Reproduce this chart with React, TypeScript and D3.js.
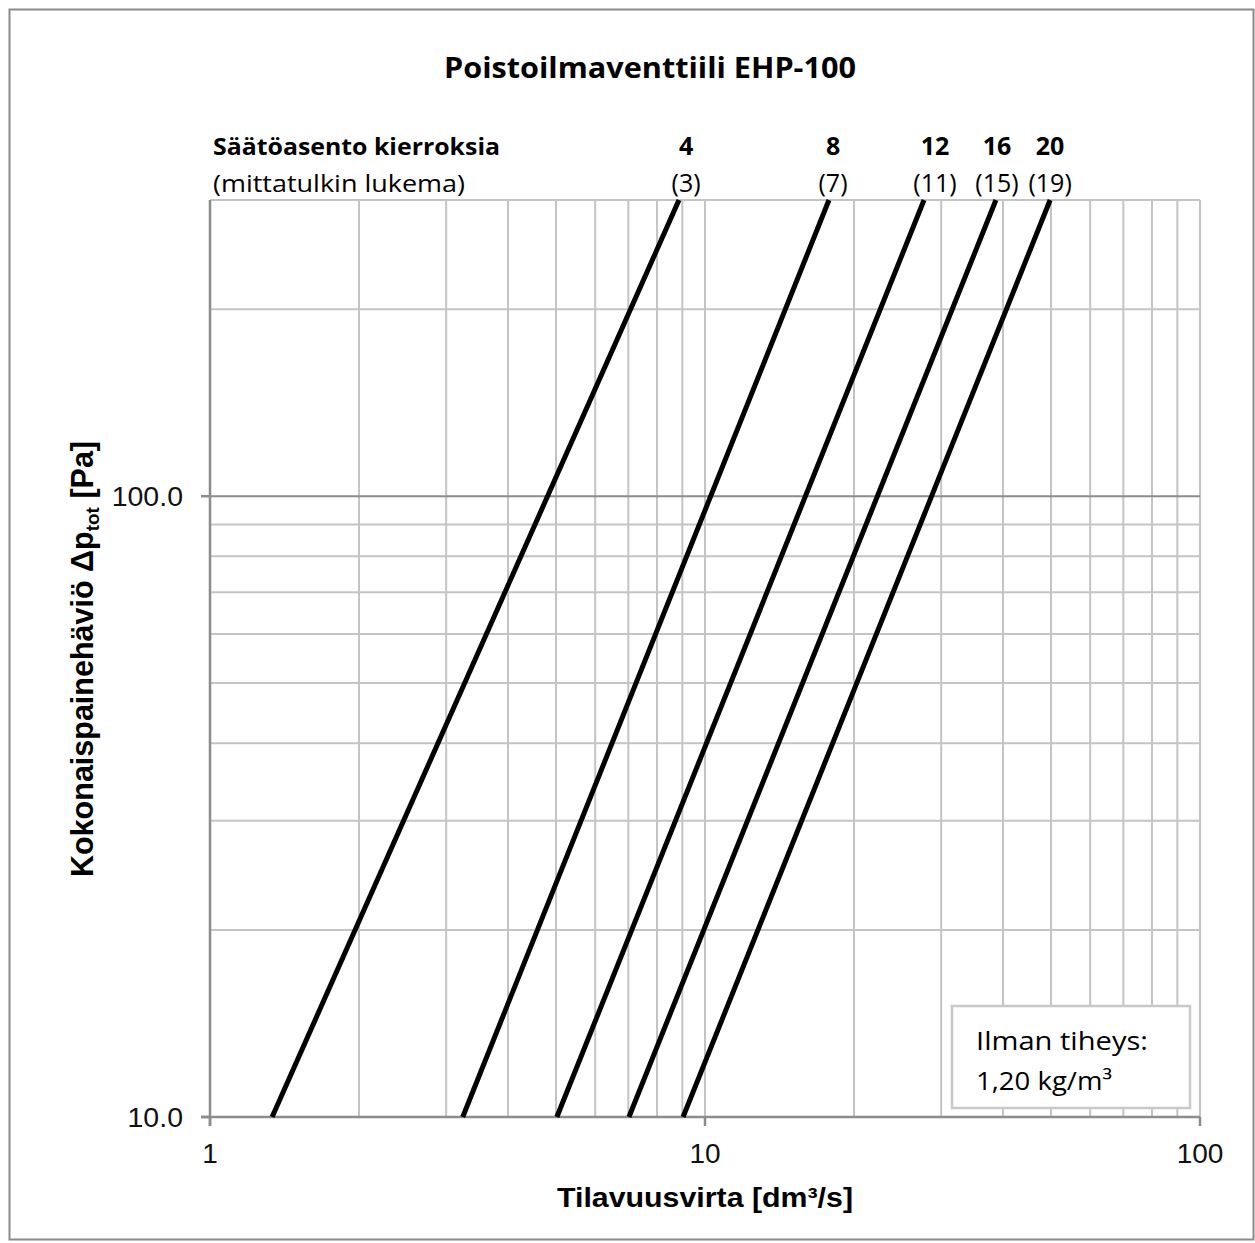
import React from 'react';
import * as d3 from 'd3';

// Valve setting (turns) and meter reading for each curve
const positions = ['4', '8', '12', '16', '20'];
const readings = ['(3)', '(7)', '(11)', '(15)', '(19)'];
// flow [dm3/s] at the bottom (10 Pa) and top (300 Pa) of each curve
const flowAtLow = [1.335, 3.24, 5.02, 7.02, 9.03];
const flowAtHigh = [8.86, 17.8, 27.7, 38.7, 49.8];
const pressures = [10, 300];
// flow where each curve label is centred
const labelFlow = [9.16, 18.14, 29.15, 38.9, 49.8];

const xTicks = [1, 10, 100];
const yTicks = [10, 100];
const xGrid = [2, 3, 4, 5, 6, 7, 8, 9, 10, 20, 30, 40, 50, 60, 70, 80, 90, 100];
const yGrid = [20, 30, 40, 50, 60, 70, 80, 90, 200, 300];

const W = 1255;
const H = 1243;
const calibri = "'Open Sans', 'Noto Sans', sans-serif";
const arial = "'Liberation Sans', Arial, sans-serif";

export default function App() {
  const x = d3.scaleLog().domain([1, 100]).range([210, 1200]);
  const y = d3.scaleLog().domain([10, 300]).range([1117, 200]);

  const line = d3.line<[number, number]>()
    .x(d => x(d[0]))
    .y(d => y(d[1]));

  const curves = positions.map((p, i) => [
    [flowAtLow[i], pressures[0]],
    [flowAtHigh[i], pressures[1]],
  ] as [number, number][]);

  const [x0, x1] = x.range();
  const [y0, y1] = y.range();

  return (
    <svg width={W} height={H} style={{ position: 'absolute', left: 0, top: 0, background: '#fff' }}>
      {/* outer frame */}
      <rect x={9.5} y={9.5} width={1244} height={1230} fill="none" stroke="#8a8a8a" strokeWidth={2} />

      {/* title */}
      <text x={650} y={78} textAnchor="middle" fontFamily={calibri} fontWeight="bold" fontSize={28}
        textLength={412} lengthAdjust="spacingAndGlyphs" fill="#000">Poistoilmaventtiili EHP-100</text>

      {/* grid */}
      {xGrid.map(v => (
        <line key={'gx' + v} x1={x(v)} x2={x(v)} y1={y1} y2={y0} stroke="#c4c4c4" strokeWidth={2} />
      ))}
      {yGrid.map(v => (
        <line key={'gy' + v} x1={x0} x2={x1} y1={y(v)} y2={y(v)} stroke="#c4c4c4" strokeWidth={2} />
      ))}
      <line x1={x0} x2={x1} y1={y(100)} y2={y(100)} stroke="#8c8c8c" strokeWidth={2} />

      {/* axes */}
      <line x1={x0} x2={x0} y1={y1} y2={y0 + 9} stroke="#8c8c8c" strokeWidth={2.5} />
      <line x1={x0 - 9} x2={x1} y1={y0} y2={y0} stroke="#8c8c8c" strokeWidth={2.5} />
      {yTicks.map(v => (
        <line key={'ty' + v} x1={x0 - 9} x2={x0} y1={y(v)} y2={y(v)} stroke="#8c8c8c" strokeWidth={2.5} />
      ))}
      {xTicks.map(v => (
        <line key={'tx' + v} x1={x(v)} x2={x(v)} y1={y0} y2={y0 + 9} stroke="#8c8c8c" strokeWidth={2.5} />
      ))}

      {/* tick labels */}
      {yTicks.map(v => (
        <text key={'ly' + v} x={x0 - 27} y={y(v) + 10} textAnchor="end" fontFamily={arial} fontSize={28.5} fill="#111">
          {d3.format('.1f')(v)}
        </text>
      ))}
      {xTicks.map(v => (
        <text key={'lx' + v} x={x(v)} y={1163} textAnchor="middle" fontFamily={arial} fontSize={28} fill="#111">
          {v}
        </text>
      ))}

      {/* axis titles */}
      <text x={705} y={1207} textAnchor="middle" fontFamily={arial} fontWeight="bold" fontSize={28}
        textLength={296} lengthAdjust="spacingAndGlyphs" fill="#000">Tilavuusvirta [dm³/s]</text>
      <text transform="translate(93,659) rotate(-90)" textAnchor="middle" fontFamily={arial} fontWeight="bold"
        fontSize={30.5} fill="#000">
        Kokonaispainehäviö Δp<tspan fontSize={19} dy={6}>tot</tspan><tspan dy={-6}> [Pa]</tspan>
      </text>

      {/* curves */}
      {curves.map((c, i) => (
        <path key={'c' + i} d={line(c) || ''} fill="none" stroke="#000" strokeWidth={5} />
      ))}

      {/* curve labels */}
      <text x={213} y={155} fontFamily={calibri} fontWeight="bold" fontSize={24}
        textLength={287} lengthAdjust="spacingAndGlyphs" fill="#000">Säätöasento kierroksia</text>
      <text x={213} y={192} fontFamily={calibri} fontSize={24}
        textLength={252} lengthAdjust="spacingAndGlyphs" fill="#000">(mittatulkin lukema)</text>
      {positions.map((p, i) => (
        <text key={'p' + i} x={x(labelFlow[i])} y={155} textAnchor="middle" fontFamily={calibri}
          fontWeight="bold" fontSize={25} fill="#000">{p}</text>
      ))}
      {readings.map((r, i) => (
        <text key={'r' + i} x={x(labelFlow[i])} y={192} textAnchor="middle" fontFamily={calibri}
          fontSize={25} fill="#000">{r}</text>
      ))}

      {/* density note */}
      <rect x={952} y={1006} width={238} height={102} fill="#fff" stroke="#c8c8c8" strokeWidth={2.5} />
      <text x={976} y={1050} fontFamily={calibri} fontSize={26} textLength={172}
        lengthAdjust="spacingAndGlyphs" fill="#000">Ilman tiheys:</text>
      <text x={976} y={1090} fontFamily={calibri} fontSize={26} textLength={136}
        lengthAdjust="spacingAndGlyphs" fill="#000">1,20 kg/m³</text>
    </svg>
  );
}
